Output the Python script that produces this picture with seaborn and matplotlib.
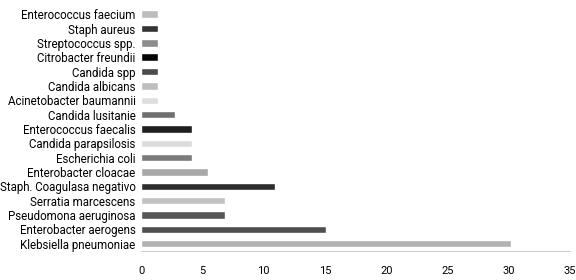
import matplotlib
matplotlib.use("Agg")
import matplotlib.pyplot as plt
import seaborn as sns
import pandas as pd

organisms = [
    "Enterococcus faecium", "Staph aureus", "Streptococcus spp.",
    "Citrobacter freundii", "Candida spp", "Candida albicans",
    "Acinetobacter baumannii", "Candida lusitanie", "Enterococcus faecalis",
    "Candida parapsilosis", "Escherichia coli", "Enterobacter cloacae",
    "Staph. Coagulasa negativo", "Serratia marcescens", "Pseudomona aeruginosa",
    "Enterobacter aerogens", "Klebsiella pneumoniae",
]
percent = [1.37, 1.37, 1.37, 1.37, 1.37, 1.37, 1.37, 2.74, 4.11,
           4.11, 4.11, 5.48, 10.96, 6.85, 6.85, 15.07, 30.14]
colors = ["#bdbdbd", "#333333", "#8c8c8c", "#050505", "#4a4a4a", "#bebebe",
          "#dedede", "#6f6f6f", "#1f1f1f", "#dcdcdc", "#7b7b7b", "#a8a8a8",
          "#2d2d2d", "#c2c2c2", "#575757", "#4f4f4f", "#b2b2b2"]
xticks = [0, 5, 10, 15, 20, 25, 30, 35]

df = pd.DataFrame({"organism": organisms, "percent": percent})

sns.set_style("white")
plt.rcParams["font.family"] = ["Roboto", "DejaVu Sans"]

fig = plt.figure(figsize=(5.76, 2.8), dpi=100)
ax = fig.add_axes([0.245, 0.104, 0.745, 0.871])
sns.barplot(data=df, y="organism", x="percent", hue="organism",
            palette=colors, legend=False, width=0.52, ax=ax,
            order=organisms, hue_order=organisms, saturation=1)
ax.set_xlim(0, 35)
ax.set_xticks(xticks)
ax.set_xlabel("")
ax.set_ylabel("")
for s in ["top", "right", "left"]:
    ax.spines[s].set_visible(False)
ax.spines["bottom"].set_color("#d0d0d0")
ax.spines["bottom"].set_linewidth(0.8)
ax.tick_params(axis="x", colors="#d0d0d0", length=4, width=0.8,
               labelcolor="black", labelsize=8, pad=7)
ax.tick_params(axis="y", length=0, labelsize=8.3, pad=4, labelcolor="black")
fig.savefig("out.png", dpi=100)
